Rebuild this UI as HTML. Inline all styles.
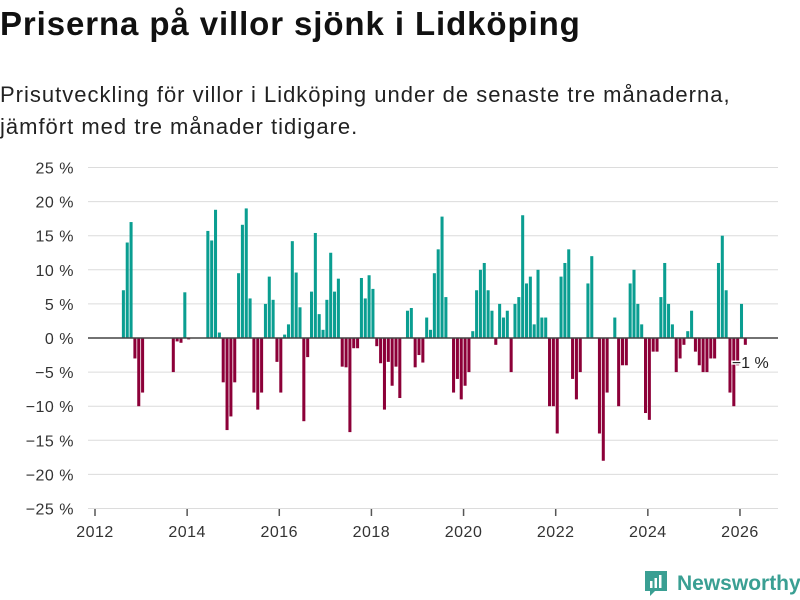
<!DOCTYPE html>
<html><head><meta charset="utf-8"><style>
body{margin:0;background:#fff;width:800px;height:600px;overflow:hidden;font-family:"Liberation Sans",sans-serif;}
#title{position:absolute;left:0;top:5px;font-size:33px;font-weight:bold;color:#111;letter-spacing:0.9px;}
#sub{position:absolute;left:0;top:79px;font-size:22px;line-height:32px;color:#222;letter-spacing:1px;}
svg{position:absolute;left:0;top:0;}
</style></head><body>
<div id="title">Priserna på villor sjönk i Lidköping</div>
<div id="sub">Prisutveckling för villor i Lidköping under de senaste tre månaderna,<br>jämfört med tre månader tidigare.</div>
<svg id="chart" width="800" height="600"></svg>
<script>
const startYear = 2012, startMonth = 7; // Aug 2012
const values = [7,14,17,-3,-10,-8,0,0,0,0,0,0,0,-5,-0.5,-0.7,6.7,-0.2,
0,0,0,0,15.7,14.3,18.8,0.8,-6.5,-13.5,-11.5,-6.5,
9.5,16.6,19,5.8,-8,-10.5,-8,5,9,5.6,-3.5,-8,
0.5,2,14.2,9.6,4.5,-12.2,-2.8,6.8,15.4,3.5,1.2,5.6,
12.5,6.8,8.7,-4.2,-4.3,-13.8,-1.5,-1.5,8.8,5.8,9.2,7.2,
-1.2,-3.7,-10.5,-3.5,-7,-4.2,-8.8,0,4,4.4,-4.3,-2.5,
-3.6,3,1.2,9.5,13,17.8,6,0,-8,-6,-9,-7,
-5,1,7,10,11,7,4,-1,5,3,4,-5,
5,6,18,8,9,2,10,3,3,-10,-10,-14,
9,11,13,-6,-9,-5,0,8,12,0,-14,-18,
-8,0,3,-10,-4,-4,8,10,5,2,-11,-12,
-2,-2,6,11,5,2,-5,-3,-1,1,4,-2,
-4,-5,-5,-3,-3,11,15,7,-8,-10,-4,5,
-1];
const yTicks = [25,20,15,10,5,0,-5,-10,-15,-20,-25];
const xTicks = [2012,2014,2016,2018,2020,2022,2024,2026];
const lastLabel = "−1 %";

const NS="http://www.w3.org/2000/svg";
const svg=document.getElementById('chart');
const y=v=>338-v*6.82;
const x=t=>95+(t-2012)*46.07;
function el(tag,attrs,parent){const e=document.createElementNS(NS,tag);for(const k in attrs)e.setAttribute(k,attrs[k]);(parent||svg).appendChild(e);return e;}
yTicks.forEach(v=>{
  const g=el('line',{x1:88,x2:778,y1:y(v),y2:y(v),stroke:'#dcdcdc','stroke-width':1});
  
  
  const t=el('text',{x:74,y:y(v)+6,'text-anchor':'end','font-size':16,fill:'#333','font-family':'Liberation Sans, sans-serif','letter-spacing':'0.5'});
  t.textContent=(v<0?'−'+(-v):v)+' %';
  
  
});
xTicks.forEach(yr=>{
  const tk=el('line',{x1:x(yr),x2:x(yr),y1:509,y2:516,stroke:'#555','stroke-width':1.5});
  
  
  const t=el('text',{x:x(yr),y:537,'text-anchor':'middle','font-size':16,fill:'#333','font-family':'Liberation Sans, sans-serif','letter-spacing':'0.5'});
  t.textContent=yr;
  
  
});
const mw=46.07/12;
values.forEach((v,i)=>{
  const m=startMonth+i;
  const x0=x(startYear+m/12);
  const top=Math.min(y(v),y(0)), h=Math.abs(y(v)-y(0));
  const r=el('rect',{x:x0,y:top,width:mw-0.8,height:h,fill:v>=0?'#0a9e91':'#8c0038'});
  
  
});
const zl=el('line',{x1:88,x2:778,y1:338,y2:338,stroke:'#444','stroke-width':1.5});


const lastX=x(startYear+(startMonth+values.length-1)/12);
const lbl=el('text',{x:lastX-12,y:368,'font-size':16,fill:'#222','font-family':'Liberation Sans, sans-serif',stroke:'#fff','stroke-width':3,'paint-order':'stroke'});
lbl.textContent=lastLabel;


const lg=el('g',{});


el('path',{d:'M645 571 h22 v20 h-12 l-5 5 v-5 h-5 z',fill:'#3a9f93'},lg);
el('rect',{x:650,y:581,width:2.5,height:7,fill:'#fff'},lg);
el('rect',{x:654.5,y:578,width:2.5,height:10,fill:'#fff'},lg);
el('rect',{x:659,y:575,width:2.5,height:13,fill:'#fff'},lg);
const lt=el('text',{x:677,y:590,'font-size':21,'font-weight':'bold',fill:'#3a9f93','font-family':'Liberation Sans, sans-serif'},lg);
lt.textContent='Newsworthy';
</script>
</body></html>
